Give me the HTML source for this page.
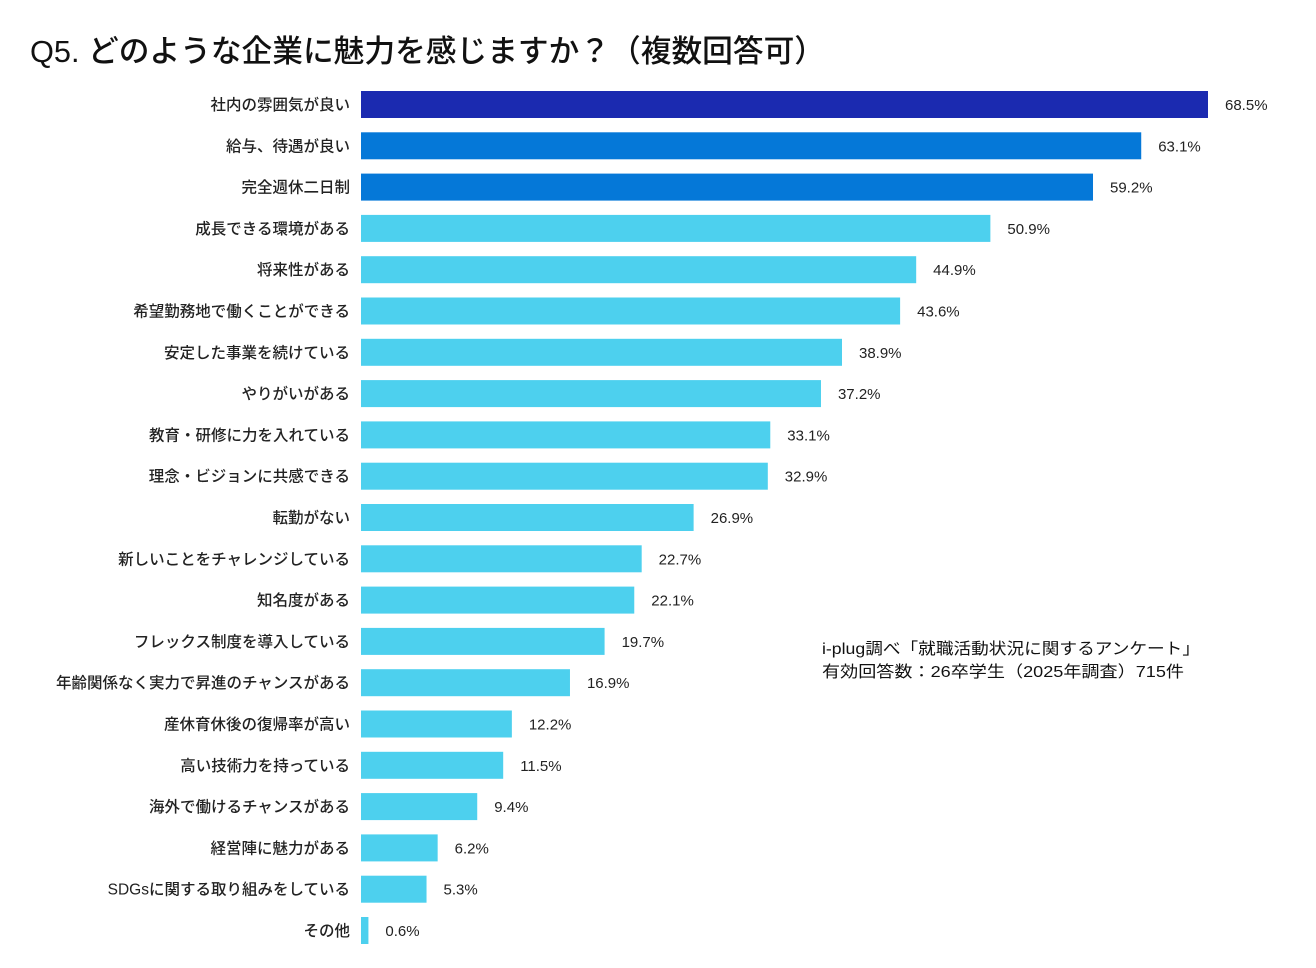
<!DOCTYPE html>
<html><head><meta charset="utf-8">
<style>
html,body{margin:0;padding:0;background:#fff;}
svg{display:block;font-family:"Liberation Sans","Noto Sans CJK JP",sans-serif;}
</style></head>
<body>
<svg id="chart" width="1316" height="968" viewBox="0 0 1316 968" xmlns="http://www.w3.org/2000/svg">
<rect width="1316" height="968" fill="#fff"/>
<text x="30" y="62" font-size="31" font-weight="500" fill="#111" textLength="795" lengthAdjust="spacingAndGlyphs">Q5. どのような企業に魅力を感じますか？（複数回答可）</text>
<text x="822" y="654" font-size="16" fill="#111" textLength="378" lengthAdjust="spacingAndGlyphs">i-plug調べ「就職活動状況に関するアンケート」</text>
<text x="822" y="677" font-size="16" fill="#111" textLength="362" lengthAdjust="spacingAndGlyphs">有効回答数：26卒学生（2025年調査）715件</text>
<g id="bars"></g>
</svg>
<script>
const categories = ["社内の雰囲気が良い","給与、待遇が良い","完全週休二日制","成長できる環境がある","将来性がある","希望勤務地で働くことができる","安定した事業を続けている","やりがいがある","教育・研修に力を入れている","理念・ビジョンに共感できる","転勤がない","新しいことをチャレンジしている","知名度がある","フレックス制度を導入している","年齢関係なく実力で昇進のチャンスがある","産休育休後の復帰率が高い","高い技術力を持っている","海外で働けるチャンスがある","経営陣に魅力がある","SDGsに関する取り組みをしている","その他"];
const values = [68.5,63.1,59.2,50.9,44.9,43.6,38.9,37.2,33.1,32.9,26.9,22.7,22.1,19.7,16.9,12.2,11.5,9.4,6.2,5.3,0.6];
const valueLabels = ["68.5%","63.1%","59.2%","50.9%","44.9%","43.6%","38.9%","37.2%","33.1%","32.9%","26.9%","22.7%","22.1%","19.7%","16.9%","12.2%","11.5%","9.4%","6.2%","5.3%","0.6%"];

const NS="http://www.w3.org/2000/svg";
const x0=361, pxPer=847/68.5;
const xScale=v=>v*pxPer;
const yTop=91, step=41.3, barH=27;
const yScale=i=>yTop+i*step;
const g=document.getElementById('bars');
function colorFor(i){return i===0?"#1b2ab0":(i<3?"#0578d8":"#4dd0ee");}
categories.forEach((c,i)=>{
  const y=yScale(i);
  const r=document.createElementNS(NS,'rect');
  
  
  r.setAttribute('x',x0);r.setAttribute('y',y);
  r.setAttribute('width',Math.max(xScale(values[i]),1));r.setAttribute('height',barH);
  r.setAttribute('fill',colorFor(i));
  g.appendChild(r);
  const t=document.createElementNS(NS,'text');
  
  
  t.setAttribute('x',350);t.setAttribute('y',y+barH/2+5.5);
  t.setAttribute('text-anchor','end');t.setAttribute('font-size','15.5');t.setAttribute('font-weight','500');t.setAttribute('fill','#222');
  t.textContent=c;g.appendChild(t);
  const v=document.createElementNS(NS,'text');
  
  
  v.setAttribute('x',x0+xScale(values[i])+17);v.setAttribute('y',y+barH/2+5.5);
  v.setAttribute('font-size','15');v.setAttribute('fill','#222');
  v.textContent=valueLabels[i];g.appendChild(v);
});
</script>
</body></html>
